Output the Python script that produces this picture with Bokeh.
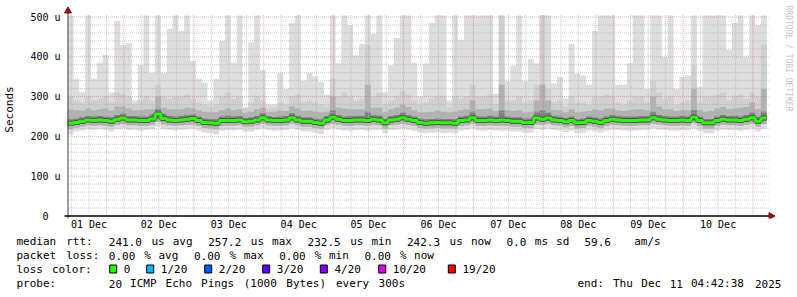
import re
import math
from bokeh.plotting import figure
from bokeh.layouts import column
from bokeh.models import Range1d, FixedTicker
from bokeh.core.properties import value
from bokeh.embed import file_html
from bokeh.resources import INLINE

# ---------------- data (hours since 01 Dec 00:00, 2-hour bins, values in microseconds) ----------------
bin_start_hour = 4.7
bin_hours = 2.0

day_ticks = [12, 36, 60, 84, 108, 132, 156, 180, 204, 228]
day_labels = ["01 Dec", "02 Dec", "03 Dec", "04 Dec", "05 Dec",
              "06 Dec", "07 Dec", "08 Dec", "09 Dec", "10 Dec"]
y_ticks = [0, 100, 200, 300, 400, 500]
y_labels = ["0\u00a0\u00a0", "100 u", "200 u", "300 u", "400 u", "500 u"]

median = [233, 235, 238, 241, 240, 241, 240, 238, 243, 246,
          241, 241, 240, 240, 244, 256, 245, 241, 240, 241,
          243, 245, 240, 235, 234, 233, 240, 240, 240, 241,
          237, 238, 241, 247, 241, 240, 240, 241, 247, 241,
          238, 238, 235, 233, 241, 248, 243, 240, 240, 241,
          241, 240, 243, 241, 234, 241, 243, 247, 243, 240,
          235, 233, 234, 235, 234, 234, 233, 240, 241, 247,
          240, 240, 241, 240, 241, 240, 238, 238, 235, 235,
          246, 243, 246, 241, 240, 237, 240, 234, 235, 240,
          238, 235, 240, 243, 241, 240, 240, 240, 241, 241,
          247, 243, 241, 240, 240, 241, 240, 248, 240, 234,
          234, 240, 243, 241, 241, 240, 243, 247, 238, 246]

ping_max = [504, 345, 311, 504, 345, 385, 405, 310, 490, 430,
            434, 290, 380, 504, 360, 504, 360, 470, 504, 465,
            504, 390, 345, 335, 290, 345, 440, 504, 385, 504,
            273, 436, 504, 366, 280, 280, 360, 320, 485, 504,
            340, 360, 351, 337, 305, 504, 384, 504, 480, 404,
            433, 504, 458, 504, 311, 378, 447, 504, 504, 385,
            300, 384, 485, 504, 504, 290, 504, 442, 504, 504,
            504, 504, 504, 307, 504, 340, 378, 504, 340, 395,
            384, 504, 504, 333, 349, 295, 433, 358, 353, 330,
            465, 504, 504, 504, 330, 330, 384, 504, 504, 320,
            504, 504, 400, 504, 320, 350, 353, 504, 325, 504,
            504, 504, 504, 418, 485, 504, 400, 504, 480, 504]

ping_p90 = [300, 290, 285, 300, 290, 295, 300, 285, 310, 305,
            300, 280, 290, 300, 290, 330, 300, 295, 300, 300,
            305, 295, 285, 280, 275, 280, 300, 310, 295, 300,
            270, 285, 300, 290, 270, 272, 285, 280, 300, 305,
            285, 290, 285, 280, 275, 345, 300, 310, 300, 290,
            295, 430, 300, 310, 280, 290, 300, 315, 305, 290,
            280, 285, 295, 300, 300, 275, 300, 295, 300, 330,
            300, 300, 305, 280, 504, 290, 290, 300, 285, 290,
            330, 504, 320, 285, 290, 275, 300, 285, 285, 280,
            300, 300, 305, 300, 285, 280, 290, 300, 300, 285,
            340, 310, 295, 300, 280, 285, 290, 380, 285, 300,
            300, 305, 310, 290, 300, 305, 295, 310, 300, 430]

ping_p75 = [268, 266, 265, 270, 266, 268, 270, 265, 275, 275,
            270, 265, 266, 268, 268, 300, 272, 268, 268, 268,
            272, 270, 266, 262, 260, 260, 266, 270, 266, 268,
            258, 262, 268, 272, 262, 262, 265, 264, 275, 270,
            264, 265, 262, 260, 262, 300, 272, 270, 268, 268,
            268, 330, 272, 272, 260, 268, 272, 280, 274, 266,
            260, 260, 262, 265, 262, 260, 262, 266, 268, 290,
            268, 268, 270, 264, 330, 266, 264, 266, 260, 262,
            290, 330, 290, 266, 265, 260, 268, 260, 262, 264,
            268, 266, 270, 270, 266, 264, 266, 268, 268, 266,
            300, 275, 268, 268, 264, 266, 266, 320, 266, 262,
            264, 270, 274, 268, 270, 272, 274, 285, 268, 320]

ping_p60 = [243, 245, 248, 251, 250, 251, 250, 248, 254, 257,
            251, 251, 250, 250, 255, 268, 256, 251, 250, 251,
            253, 255, 250, 245, 244, 243, 250, 252, 250, 251,
            246, 248, 251, 258, 251, 249, 250, 251, 258, 252,
            248, 248, 245, 243, 251, 265, 254, 250, 251, 251,
            251, 262, 253, 252, 244, 251, 254, 260, 254, 250,
            245, 243, 244, 245, 244, 244, 243, 250, 252, 262,
            250, 250, 252, 250, 265, 250, 248, 248, 245, 245,
            262, 265, 260, 251, 250, 247, 250, 244, 245, 250,
            248, 245, 250, 254, 251, 250, 250, 250, 251, 251,
            262, 254, 251, 250, 250, 251, 250, 266, 250, 244,
            244, 250, 254, 251, 252, 250, 254, 260, 248, 262]

ping_p25 = [227, 229, 232, 235, 234, 235, 234, 232, 237, 239,
            235, 235, 234, 234, 237, 245, 238, 235, 234, 235,
            237, 238, 234, 229, 228, 227, 234, 234, 234, 235,
            231, 232, 235, 240, 235, 234, 234, 235, 240, 235,
            232, 232, 229, 227, 235, 241, 237, 234, 234, 235,
            235, 234, 237, 235, 228, 235, 237, 240, 237, 234,
            229, 227, 228, 229, 228, 228, 227, 234, 235, 240,
            234, 234, 235, 234, 235, 234, 232, 232, 229, 229,
            239, 237, 239, 235, 234, 231, 234, 228, 229, 234,
            232, 229, 234, 237, 235, 234, 234, 234, 235, 235,
            240, 237, 235, 234, 234, 235, 234, 241, 234, 228,
            228, 234, 237, 235, 235, 234, 237, 240, 232, 239]

ping_p10 = [218, 222, 225, 228, 227, 228, 227, 224, 229, 231,
            228, 228, 226, 227, 229, 236, 230, 228, 227, 228,
            229, 230, 226, 221, 220, 218, 226, 227, 227, 228,
            224, 224, 228, 232, 228, 226, 227, 228, 232, 228,
            224, 224, 221, 219, 228, 232, 229, 227, 226, 228,
            228, 226, 229, 228, 220, 228, 229, 232, 229, 226,
            221, 219, 220, 221, 220, 220, 219, 226, 228, 232,
            227, 226, 228, 227, 227, 226, 224, 224, 221, 221,
            230, 229, 231, 228, 227, 223, 226, 220, 221, 227,
            224, 221, 226, 229, 228, 227, 226, 227, 228, 228,
            232, 229, 228, 227, 226, 228, 227, 233, 226, 219,
            219, 227, 229, 228, 228, 226, 229, 232, 224, 231]

ping_min = [205, 212, 215, 218, 216, 218, 216, 212, 218, 220,
            216, 217, 214, 216, 218, 224, 218, 216, 215, 217,
            218, 219, 214, 210, 208, 205, 214, 216, 215, 217,
            212, 212, 217, 220, 216, 214, 215, 216, 220, 216,
            213, 212, 209, 206, 216, 220, 217, 215, 214, 216,
            216, 214, 217, 216, 208, 216, 217, 220, 217, 214,
            210, 208, 209, 210, 208, 209, 208, 214, 216, 220,
            215, 214, 216, 215, 214, 214, 212, 212, 209, 209,
            218, 217, 219, 216, 215, 211, 214, 208, 209, 215,
            212, 209, 214, 217, 216, 215, 214, 215, 216, 216,
            220, 217, 216, 215, 214, 216, 215, 220, 214, 208,
            207, 215, 217, 216, 216, 214, 217, 220, 212, 219]

loss_labels = ["0", "1/20", "2/20", "3/20", "4/20", "10/20", "19/20"]
loss_colors = ["#26ff00", "#00b8ff", "#0059ff", "#5e00ff", "#7e00ff", "#dd00ff", "#ff0000"]

row_rtt = "median rtt:  241.0 us avg  257.2 us max  232.5 us min  242.3 us now  0.0 ms sd  59.6   am/s"
row_loss = "packet loss: 0.00 % avg  0.00 % max  0.00 % min  0.00 % now"
row_color = "loss color:"
row_probe = "probe:       20 ICMP Echo Pings (1000 Bytes) every 300s"
row_end = "end: Thu Dec 11 04:42:38 2025"
watermark = "RRDTOOL / TOBI OETIKER"

# ---------------- layout constants (canvas pixels) ----------------
W = 797
TOP_H = 232
BOT_H = 297 - TOP_H
FL, FR, FT, FB = 60, 797, 0, 218
PX_DAY0, PX_PER_HOUR = 52.5, 70.0 / 24.0
PY_ZERO, PY_PER_U = 215.5, 0.398
MONO = "DejaVu Sans Mono"


def hx(px):
    return (px - PX_DAY0) / PX_PER_HOUR


def vy(py):
    return (PY_ZERO - py) / PY_PER_U


p = figure(width=W, height=TOP_H, output_backend="svg", toolbar_location=None,
           x_range=Range1d(hx(FL), hx(FR)), y_range=Range1d(vy(FB), vy(FT)),
           min_border_left=FL, min_border_right=W - FR,
           min_border_top=FT, min_border_bottom=TOP_H - FB)
p.background_fill_color = "white"
p.border_fill_color = "white"
p.outline_line_color = None
p.xgrid.grid_line_color = None
p.ygrid.grid_line_color = None

for ax in (p.xaxis[0], p.yaxis[0]):
    ax.axis_line_color = None
    ax.major_tick_line_color = None
    ax.minor_tick_line_color = None
    ax.major_tick_out = 0
    ax.major_tick_in = 0
    ax.major_label_text_font = MONO
    ax.major_label_text_font_size = "10px"
    ax.major_label_text_color = "#000000"

p.yaxis[0].ticker = FixedTicker(ticks=y_ticks)
p.yaxis[0].major_label_overrides = {t: s for t, s in zip(y_ticks, y_labels)}
p.yaxis[0].major_label_standoff = 1
p.yaxis[0].axis_label = "Seconds"
p.yaxis[0].axis_label_text_font = MONO
p.yaxis[0].axis_label_text_font_size = "11px"
p.yaxis[0].axis_label_text_font_style = "normal"
p.yaxis[0].axis_label_text_color = "#000000"
p.yaxis[0].axis_label_standoff = 11
p.xaxis[0].ticker = FixedTicker(ticks=day_ticks)
p.xaxis[0].major_label_overrides = {t: s for t, s in zip(day_ticks, day_labels)}
p.xaxis[0].major_label_standoff = 0

# ---------------- smoke ----------------
n = len(median)
edges = [bin_start_hour + bin_hours * k for k in range(n + 1)]


def ext(a):
    return list(a) + [a[-1]]


bands = [
    (ping_min, ping_max, "#dddddd"),
    (ping_p10, ping_p90, "#cfcfcf"),
    (ping_p10, ping_p75, "#b2b2b2"),
    (ping_p25, ping_p60, "#808080"),
]
for lo, hi, col in bands:
    p.varea_step(x=edges, y1=ext(lo), y2=ext(hi), step_mode="after", fill_color=col)

# ---------------- grid ----------------
x_left_grid, x_right_grid = hx(66.5), hx(768)
y_top_grid = vy(14)
minor_h = [v for v in range(20, 501, 20) if v % 100 != 0]
major_h = [v for v in range(100, 501, 100)]
minor_v = [h for h in range(6, 241, 6) if h % 24 != 0]
major_v = [h for h in range(24, 241, 24)]
p.segment(x0=[x_left_grid] * len(minor_h), x1=[x_right_grid] * len(minor_h), y0=minor_h, y1=minor_h,
          line_color="#b0b0b0", line_width=1, line_dash="1 1", line_alpha=0.7)
p.segment(x0=minor_v, x1=minor_v, y0=[0] * len(minor_v), y1=[y_top_grid] * len(minor_v),
          line_color="#b0b0b0", line_width=1, line_dash="1 1", line_alpha=0.7)
p.segment(x0=[x_left_grid] * len(major_h), x1=[x_right_grid] * len(major_h), y0=major_h, y1=major_h,
          line_color="#e06868", line_width=1, line_dash="1 1", line_alpha=0.55)
p.segment(x0=major_v, x1=major_v, y0=[0] * len(major_v), y1=[y_top_grid] * len(major_v),
          line_color="#e06868", line_width=1, line_dash="1 1", line_alpha=0.55)

# ---------------- median line ----------------
p.step(x=edges, y=ext(median), mode="after", line_color="#3c3c3c", line_width=5, line_alpha=0.7)
p.step(x=edges, y=ext(median), mode="after", line_color="#26ff00", line_width=3)

# ---------------- axis lines and arrows ----------------
ax_x = hx(66.5)
p.segment(x0=[ax_x], x1=[ax_x], y0=[vy(218)], y1=[vy(12)], line_color="#404040", line_width=1)
p.segment(x0=[hx(63)], x1=[hx(769)], y0=[0], y1=[0], line_color="#000000", line_width=1.3)
p.scatter(x=[ax_x], y=[vy(10.5)], marker="triangle", size=7, fill_color="#8b1010",
          line_color="#8b1010")
p.scatter(x=[hx(770.5)], y=[0], marker="triangle", size=7, angle=-math.pi / 2,
          fill_color="#8b1010", line_color="#8b1010")

# watermark (inside the frame, right margin)
p.text(x=[hx(788)], y=[vy(5)], text=[watermark], angle=-math.pi / 2,
       text_font=value(MONO), text_font_size="8px", text_color="#c4c4c4",
       text_align="left", text_baseline="middle")

# ---------------- legend panel (page pixel coordinates) ----------------
q = figure(width=W, height=BOT_H, output_backend="svg", toolbar_location=None,
           y_range=Range1d(297, TOP_H),
           x_axis_location=None, y_axis_location=None,
           min_border_left=0, min_border_right=0, min_border_top=0, min_border_bottom=0)
if "frame_align" in q.properties():
    q.frame_align = False
    p.frame_align = False
    q.x_range = Range1d(0, W)
else:
    q.x_range = Range1d(FL, W)
q.background_fill_color = "white"
q.border_fill_color = "white"
q.outline_line_color = None
q.xgrid.grid_line_color = None
q.ygrid.grid_line_color = None

PITCH = 7.1
tx, ty, tt = [], [], []


def row(text, cx0, cy):
    for m in re.finditer(r"\S+", text):
        tx.append(cx0 + PITCH * m.start())
        ty.append(cy)
        tt.append(m.group())


row(row_rtt, 16, 241.3)
row(row_loss, 16, 255.3)
row(row_color, 16, 268.7)
row(row_probe, 16, 283.3)
row(row_end, 16 + PITCH * 79, 283.3)

box_left = [108.7, 145.7, 203.7, 261.7, 319.3, 377.7, 447.3]
for bx, lab in zip(box_left, loss_labels):
    tx.append(bx + 14.6)
    ty.append(268.7)
    tt.append(lab)

q.text(x=tx, y=ty, text=tt, text_font=value(MONO), text_font_size="11px",
       text_color="#000000", text_align="left", text_baseline="middle")
q.quad(left=[b + 0.5 for b in box_left], right=[b + 7.5 for b in box_left],
       top=[264.5] * len(box_left), bottom=[272.5] * len(box_left),
       fill_color=loss_colors, line_color="#000000", line_width=1)

layout = column(p, q, spacing=0)
open("out.html", "w").write(file_html(layout, INLINE))
